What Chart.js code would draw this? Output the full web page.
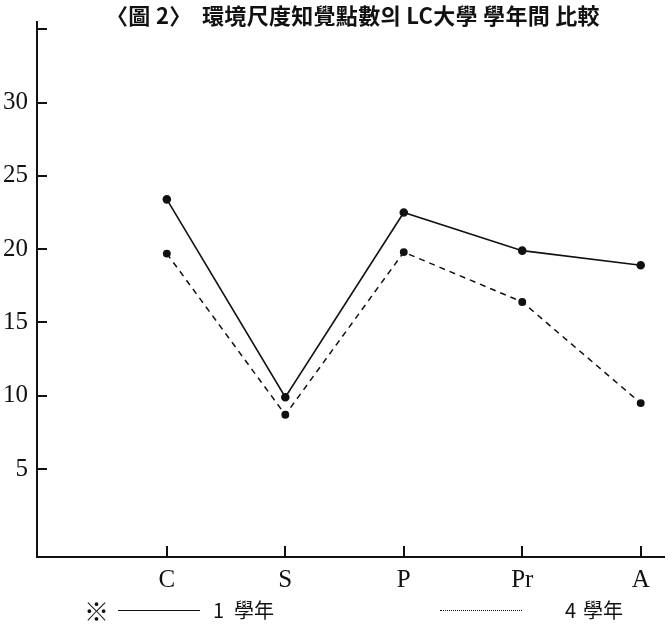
<!DOCTYPE html>
<html>
<head>
<meta charset="utf-8">
<script src="https://cdn.jsdelivr.net/npm/chart.js@4.4.1/dist/chart.umd.min.js"></script>
<style>
  html, body { margin: 0; padding: 0; background: #fff; }
  .wrap { position: relative; width: 670px; height: 628px; overflow: hidden; }
  .title {
    position: absolute; left: 106px; top: 0px;
    font: bold 22px "Noto Sans CJK KR", "Noto Sans CJK TC", sans-serif;
    color: #111; white-space: pre; letter-spacing: 0.3px; line-height: 28px;
  }
  .legend {
    position: absolute; left: 0; top: 595px; width: 670px; height: 30px;
    font: 20px "Noto Sans CJK KR", "Noto Sans CJK TC", serif; color: #111;
  }
  .legend span { position: absolute; white-space: pre; top: 0; }
  .legend .ln { height: 0; top: 15px; }
</style>
</head>
<body>
<div class="wrap">
  <canvas id="c" width="670" height="628"></canvas>
  <div class="title">〈圖 2〉  環境尺度知覺點數의 LC大學 學年間 比較</div>
  <div class="legend" id="legend"></div>
</div>
<script>
// categories and values
const categories = ["C", "S", "P", "Pr", "A"];
const grade1 = [23.4, 9.9, 22.5, 19.9, 18.9];
const grade4 = [19.7, 8.7, 19.8, 16.4, 9.5];
const yTicks = [5, 10, 15, 20, 25, 30, 35];
const yLabels = ["5", "10", "15", "20", "25", "30", ""];
const seriesNumbers = ["1", "4"];
const seriesUnit = "學年";

const toPoints = (vals) => vals.map((v, i) => ({ x: i + 1, y: v }));

// short tick marks drawn inside the axes, like the printed figure
const innerTicks = {
  id: "innerTicks",
  afterDraw(chart) {
    const ctx = chart.ctx;
    const x = chart.scales.x, y = chart.scales.y;
    ctx.save();
    ctx.strokeStyle = "#111";
    ctx.lineWidth = 2;
    yTicks.forEach((t) => {
      const py = Math.round(y.getPixelForValue(t));
      ctx.beginPath();
      ctx.moveTo(x.left, py);
      ctx.lineTo(x.left + 10, py);
      ctx.stroke();
    });
    categories.forEach((c, i) => {
      const px = Math.round(x.getPixelForValue(i + 1));
      ctx.beginPath();
      ctx.moveTo(px, y.bottom);
      ctx.lineTo(px, y.bottom - 11);
      ctx.stroke();
    });
    ctx.restore();
  },
};

const serif = { family: "'Liberation Serif', 'DejaVu Serif', serif", size: 25 };

new Chart(document.getElementById("c"), {
  type: "line",
  data: {
    datasets: [
      {
        label: seriesNumbers[0] + " " + seriesUnit,
        data: toPoints(grade1),
        borderColor: "#111",
        backgroundColor: "#111",
        borderWidth: 1.6,
        pointRadius: 3.5,
        tension: 0,
      },
      {
        label: seriesNumbers[1] + " " + seriesUnit,
        data: toPoints(grade4),
        borderColor: "#111",
        backgroundColor: "#111",
        borderWidth: 1.5,
        borderDash: [6, 5],
        pointRadius: 3.2,
        tension: 0,
      },
    ],
  },
  options: {
    responsive: false,
    animation: false,
    layout: { padding: { top: 22, right: 0, bottom: 31, left: 0 } },
    plugins: { legend: { display: false }, title: { display: false }, tooltip: { enabled: false } },
    scales: {
      x: {
        type: "linear",
        min: -0.096,
        max: 5.2,
        grid: { display: false },
        border: { display: true, color: "#111", width: 2 },
        afterBuildTicks: (s) => { s.ticks = categories.map((c, i) => ({ value: i + 1 })); },
        afterFit: (s) => { s.height = 40; },
        ticks: {
          color: "#111",
          font: serif,
          padding: 0,
          maxRotation: 0,
          autoSkip: false,
          callback: (v) => categories[v - 1] || "",
        },
      },
      y: {
        min: -1,
        max: 35.5,
        grid: { display: false },
        border: { display: true, color: "#111", width: 2 },
        afterBuildTicks: (s) => { s.ticks = yTicks.map((v) => ({ value: v })); },
        afterFit: (s) => { s.width = 37; },
        ticks: {
          color: "#111",
          font: serif,
          padding: 1,
          callback: (v) => yLabels[yTicks.indexOf(v)],
        },
      },
    },
  },
  plugins: [innerTicks],
});

// legend row at the bottom
const legend = document.getElementById("legend");
legend.innerHTML =
  '<span style="left:84px;top:-3px;font-size:25px">※</span>' +
  '<span class="ln" style="left:118px;width:82px;border-top:1.5px solid #111"></span>' +
  '<span style="left:213px">' + seriesNumbers[0] + '</span>' +
  '<span style="left:234px">' + seriesUnit + '</span>' +
  '<span class="ln" style="left:440px;width:82px;border-top:1.5px dotted #111"></span>' +
  '<span style="left:565px">' + seriesNumbers[1] + '</span>' +
  '<span style="left:583px">' + seriesUnit + '</span>';
</script>
</body>
</html>
